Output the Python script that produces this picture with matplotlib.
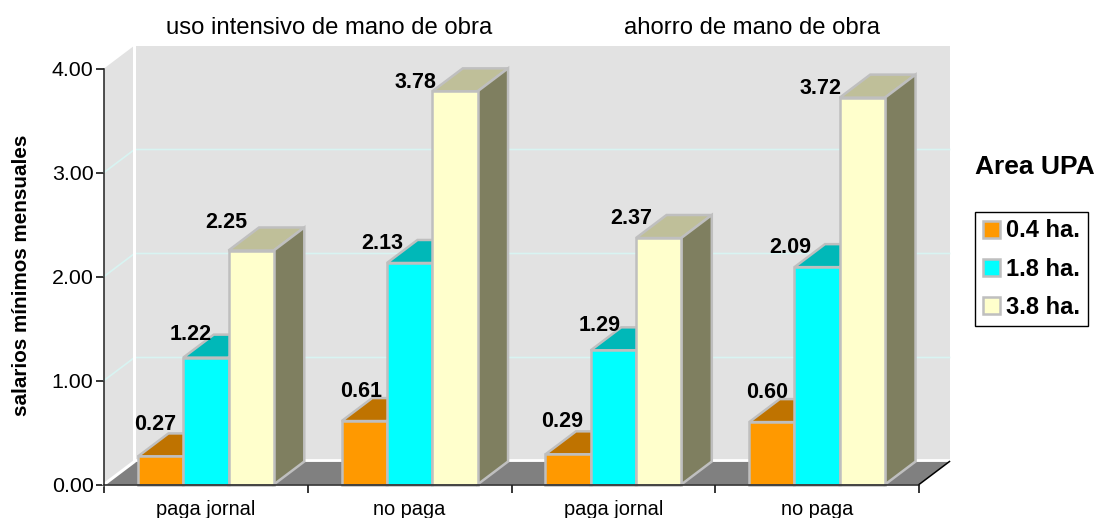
import matplotlib
matplotlib.use('Agg')
import matplotlib.pyplot as plt
from matplotlib.patches import Patch
import numpy as np

plt.rcParams['font.family'] = ['Liberation Sans', 'DejaVu Sans']

# data
categories = ['paga jornal', 'no paga', 'paga jornal', 'no paga']
areas = ['0.4 ha.', '1.8 ha.', '3.8 ha.']
area_04 = [0.27, 0.61, 0.29, 0.60]
area_18 = [1.22, 2.13, 1.29, 2.09]
area_38 = [2.25, 3.78, 2.37, 3.72]
series = [area_04, area_18, area_38]
y_ticks = [0, 1, 2, 3, 4]

front = ['#ff9900', '#00ffff', '#ffffcc']
top = ['#bf7300', '#00b8b8', '#bfbf99']
side = ['#7f5c00', '#008f8f', '#7f7f60']
edge = '#bfbfbf'

# label offsets from the bar's top left corner, in pixels
label_dx = [[17, 19, 17, 18], [7, -5, 9, -4], [-2, -17, -5, -19]]
label_dy = [[31.5, 29.5, 32.5, 29.5], [23.5, 19.5, 24.5, 19.5], [27.5, 8.5, 19.5, 9.5]]

fig = plt.figure(figsize=(10.96, 5.18), dpi=100)
ax = fig.add_axes([104 / 1096, (518 - 484.5) / 518, 815 / 1096, 416 / 518])
ax.set_xlim(0, 4)
ax.set_ylim(0, 4)
ax.patch.set_visible(False)

# oblique depth in data units
px_x = 4 / 815
px_y = 4 / 416
dx = 30.5 * px_x
dy = 23 * px_y

# walls and floor
ax.fill([0, dx, dx, 0], [0, dy, 4 + dy, 4], color='#e2e2e2', lw=0, clip_on=False, zorder=1)
ax.fill([dx, 4 + dx, 4 + dx, dx], [dy, dy, 4 + dy, 4 + dy], color='#e2e2e2', lw=0, clip_on=False, zorder=1)
ax.fill([0, 4, 4 + dx, dx], [0, 0, dy, dy], color='#808080', lw=0, clip_on=False, zorder=2)
for t in y_ticks[1:-1]:
    ax.plot([0, dx, 4 + dx], [t, t + dy, t + dy], color='#d8f4f2', lw=1.2, clip_on=False, zorder=2)
ax.plot([0, dx, dx], [0, dy, 4 + dy], color='white', lw=2.2, clip_on=False, zorder=3)
ax.plot([dx, 4 + dx], [dy + 2 * px_y, dy + 2 * px_y], color='white', lw=2, clip_on=False, zorder=2)
ax.plot([4, 4 + dx], [0, dy], color='black', lw=1.1, clip_on=False, zorder=3)

# bars
bar_w = (2 / 3) / 3
x = np.arange(len(categories))
for j, vals in enumerate(series):
    xs = x + 1 / 6 + j * bar_w
    z = 4 + j
    ax.bar(xs, vals, bar_w, align='edge', color=front[j], edgecolor=edge, linewidth=1.8, zorder=z + 0.5, clip_on=False)
    for i, (x0, v) in enumerate(zip(xs, vals)):
        x1 = x0 + bar_w
        ax.fill([x0, x1, x1 + dx, x0 + dx], [v, v, v + dy, v + dy], facecolor=top[j], edgecolor=edge, lw=1.8, zorder=z, clip_on=False)
        ax.fill([x1, x1 + dx, x1 + dx, x1], [0, dy, v + dy, v], facecolor=side[j], edgecolor=edge, lw=1.8, zorder=z, clip_on=False)
        ax.text(x0 + label_dx[j][i] * px_x, v + label_dy[j][i] * px_y, '%.2f' % v, ha='center', va='center',
                fontsize=15.5, fontweight='bold', color='black', zorder=10)

# axes
for s in ['top', 'right']:
    ax.spines[s].set_visible(False)
for s in ['left', 'bottom']:
    ax.spines[s].set_color('#202020')
    ax.spines[s].set_linewidth(1.1)
    ax.spines[s].set_zorder(9)
ax.set_yticks(y_ticks)
ax.set_yticklabels(['%.2f' % t for t in y_ticks], fontsize=15.4)
ax.set_xticks(range(5))
ax.set_xticklabels([])
ax.set_xticks(x + 0.5, categories, minor=True, fontsize=14.4)
ax.tick_params(axis='x', which='minor', length=0, pad=11)
ax.tick_params(axis='x', which='major', length=6, width=1.1)
ax.tick_params(axis='y', length=6, width=1.1, pad=1.5)

fig.text(22 / 1096, 1 - 275 / 518, 'salarios mínimos mensuales', rotation=90, ha='center', va='center',
         fontsize=14.9, fontweight='bold')
fig.text(329 / 1096, 1 - 27.5 / 518, 'uso intensivo de mano de obra', ha='center', va='center', fontsize=17.2)
fig.text(752 / 1096, 1 - 27.5 / 518, 'ahorro de mano de obra', ha='center', va='center', fontsize=17.2)
fig.text(1035 / 1096, 1 - 166.5 / 518, 'Area UPA', ha='center', va='center', fontsize=19, fontweight='bold')

handles = [Patch(facecolor=front[j], edgecolor=edge, linewidth=1.8, label=areas[j]) for j in range(3)]
leg = fig.legend(handles=handles, loc='center', bbox_to_anchor=(1031.5 / 1096, 1 - 269 / 518), fancybox=False,
                 edgecolor='black', framealpha=1, prop={'weight': 'bold', 'size': 17},
                 handlelength=0.75, handleheight=0.75, handletextpad=0.25, labelspacing=0.64, borderpad=0.32, borderaxespad=0)
leg.get_frame().set_linewidth(1)

fig.savefig('out.png', dpi=100)
